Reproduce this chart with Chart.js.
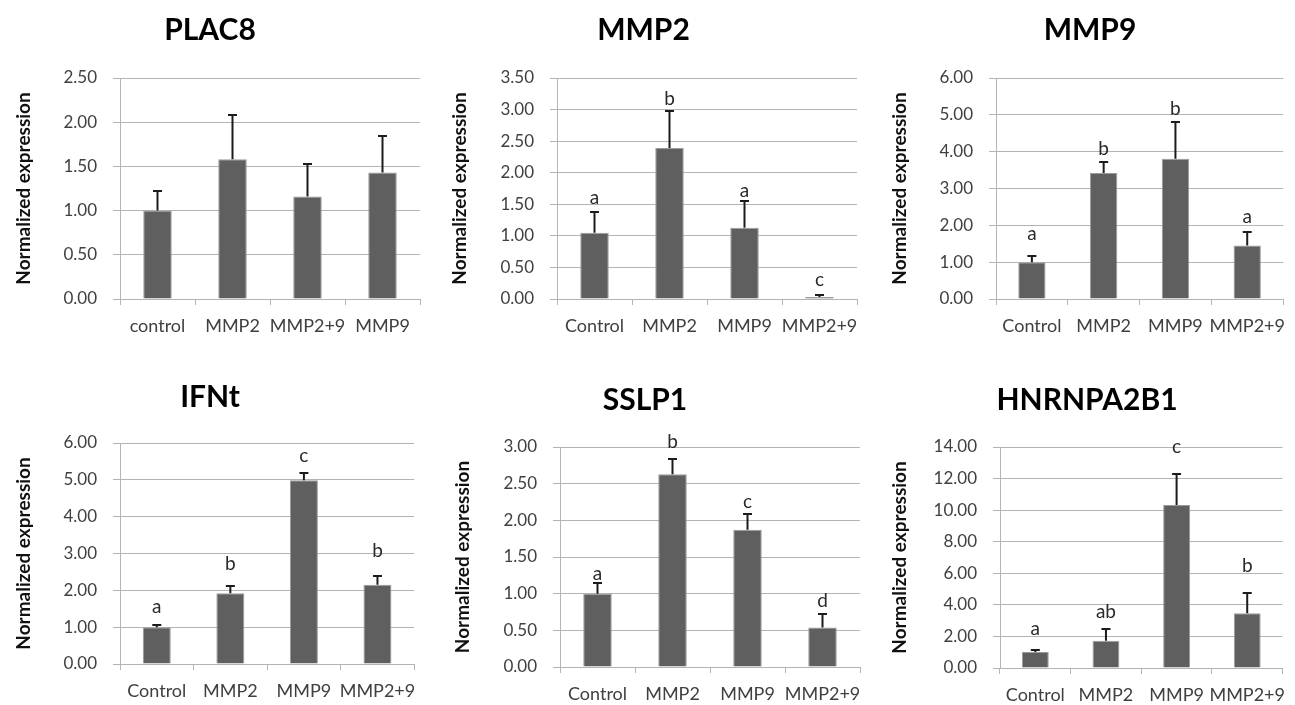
<!DOCTYPE html>
<html>
<head>
<meta charset="utf-8">
<script src="https://cdn.jsdelivr.net/npm/chart.js@4.4.0/dist/chart.umd.min.js"></script>
<style>
  body { margin: 0; background: #fff; width: 1295px; height: 705px; overflow: hidden; position: relative; }
  .panel { position: absolute; }
  .panel canvas { display: block; }
</style>
</head>
<body>
<div class="panel" style="left:0px;top:0px"><canvas id="c0" width="426" height="350"></canvas></div>
<div class="panel" style="left:430px;top:0px"><canvas id="c1" width="440" height="350"></canvas></div>
<div class="panel" style="left:885px;top:0px"><canvas id="c2" width="410" height="350"></canvas></div>
<div class="panel" style="left:0px;top:350px"><canvas id="c3" width="426" height="355"></canvas></div>
<div class="panel" style="left:430px;top:350px"><canvas id="c4" width="444" height="355"></canvas></div>
<div class="panel" style="left:879px;top:350px"><canvas id="c5" width="416" height="355"></canvas></div>

<script>
// --- data ---
const titles = ['PLAC8', 'MMP2', 'MMP9', 'IFNt', 'SSLP1', 'HNRNPA2B1'];
const catsPlac8 = ['control', 'MMP2', 'MMP2+9', 'MMP9'];
const catsOther = ['Control', 'MMP2', 'MMP9', 'MMP2+9'];

const plac8Mean = [1.00, 1.58, 1.16, 1.43];
const plac8Sd   = [0.22, 0.50, 0.37, 0.41];

const mmp2Mean = [1.05, 2.39, 1.13, 0.03];
const mmp2Sd   = [0.33, 0.58, 0.42, 0.03];
const mmp2Letters = ['a', 'b', 'a', 'c'];
const mmp2LetterAt = [1.50, 3.07, 1.62, 0.21];

const mmp9Mean = [1.00, 3.42, 3.81, 1.45];
const mmp9Sd   = [0.18, 0.29, 0.99, 0.38];
const mmp9Letters = ['a', 'b', 'b', 'a'];
const mmp9LetterAt = [1.60, 3.91, 5.00, 2.06];

const ifntMean = [1.00, 1.92, 4.99, 2.15];
const ifntSd   = [0.06, 0.21, 0.20, 0.23];
const ifntLetters = ['a', 'b', 'c', 'b'];
const ifntLetterAt = [1.38, 2.55, 5.48, 2.91];

const sslp1Mean = [1.00, 2.63, 1.87, 0.54];
const sslp1Sd   = [0.14, 0.21, 0.21, 0.18];
const sslp1Letters = ['a', 'b', 'c', 'd'];
const sslp1LetterAt = [1.19, 2.99, 2.17, 0.82];

const hnrMean = [1.01, 1.73, 10.32, 3.47];
const hnrSd   = [0.11, 0.73, 2.00, 1.27];
const hnrLetters = ['a', 'ab', 'c', 'b'];
const hnrLetterAt = [2.09, 3.17, 13.6, 6.08];

const yMax  = [2.5, 3.5, 6, 6, 3, 14];
const yStep = [0.5, 0.5, 1, 1, 0.5, 2];

// --- layout (page pixels) ---
const panels = [
  { left: 0,   top: 0,   w: 426, h: 350, pl: 120,  pt: 78,  pr: 420,  pb: 299, titleTop: 12, yPad: 12 },
  { left: 430, top: 0,   w: 440, h: 350, pl: 557,  pt: 78,  pr: 857,  pb: 299, titleTop: 12, yPad: 18 },
  { left: 885, top: 0,   w: 410, h: 350, pl: 996,  pt: 78,  pr: 1295, pb: 299, titleTop: 12, yPad: 3 },
  { left: 0,   top: 350, w: 426, h: 355, pl: 120,  pt: 443, pr: 420,  pb: 664, titleTop: 29, yPad: 12 },
  { left: 430, top: 350, w: 444, h: 355, pl: 560,  pt: 447, pr: 860,  pb: 667, titleTop: 32, yPad: 21 },
  { left: 879, top: 350, w: 416, h: 355, pl: 1000, pt: 447, pr: 1295, pb: 668, titleTop: 32, yPad: 9 }
];

const series = [
  { cats: catsPlac8, mean: plac8Mean, sd: plac8Sd, letters: [], letterAt: [] },
  { cats: catsOther, mean: mmp2Mean, sd: mmp2Sd, letters: mmp2Letters, letterAt: mmp2LetterAt },
  { cats: catsOther, mean: mmp9Mean, sd: mmp9Sd, letters: mmp9Letters, letterAt: mmp9LetterAt },
  { cats: catsOther, mean: ifntMean, sd: ifntSd, letters: ifntLetters, letterAt: ifntLetterAt },
  { cats: catsOther, mean: sslp1Mean, sd: sslp1Sd, letters: sslp1Letters, letterAt: sslp1LetterAt },
  { cats: catsOther, mean: hnrMean, sd: hnrSd, letters: hnrLetters, letterAt: hnrLetterAt }
];

const GRID = '#b4b4b4';
const FONT = 'Lato';

// upper error bars + significance letters
const errorBars = {
  id: 'errorBars',
  afterDatasetsDraw(chart, args, opts) {
    const { ctx } = chart;
    const y = chart.scales.y;
    const meta = chart.getDatasetMeta(0);
    const means = chart.data.datasets[0].data;
    ctx.save();
    ctx.strokeStyle = '#1c1c1c';
    ctx.lineWidth = 2;
    meta.data.forEach((bar, i) => {
      const y0 = y.getPixelForValue(means[i]);
      const y1 = Math.round(y.getPixelForValue(means[i] + opts.sd[i]));
      ctx.beginPath();
      ctx.moveTo(bar.x, y0);
      ctx.lineTo(bar.x, y1);
      ctx.moveTo(bar.x - 4.5, y1);
      ctx.lineTo(bar.x + 4.5, y1);
      ctx.stroke();
    });
    ctx.fillStyle = '#2a2a2a';
    ctx.font = '19px ' + FONT;
    ctx.textAlign = 'center';
    ctx.textBaseline = 'alphabetic';
    opts.letters.forEach((txt, i) => {
      const bar = meta.data[i];
      ctx.fillText(txt, bar.x, y.getPixelForValue(opts.letterAt[i]));
    });
    ctx.restore();
  }
};

function makeChart(idx) {
  const p = panels[idx];
  const s = series[idx];
  const ctx = document.getElementById('c' + idx).getContext('2d');
  return new Chart(ctx, {
    type: 'bar',
    data: {
      labels: s.cats,
      datasets: [{
        data: s.mean,
        backgroundColor: '#5f5f5f',
        borderColor: '#9a9a9a',
        borderWidth: 1,
        barPercentage: 0.38,
        categoryPercentage: 1.0
      }]
    },
    plugins: [errorBars],
    options: {
      responsive: false,
      animation: false,
      layout: { padding: { left: 0, top: 0, bottom: 0, right: p.w - (p.pr - p.left) } },
      plugins: {
        legend: { display: false },
        tooltip: { enabled: false },
        title: {
          display: true,
          text: titles[idx],
          color: '#000',
          font: { family: FONT, weight: 'bold', size: 30, lineHeight: 1.2 },
          padding: { top: p.titleTop, bottom: (p.pt - p.top) - p.titleTop - 36 }
        },
        errorBars: { sd: s.sd, letters: s.letters, letterAt: s.letterAt }
      },
      scales: {
        x: {
          offset: true,
          grid: { display: true, offset: true, drawOnChartArea: false, drawTicks: true, tickLength: 6, color: GRID },
          border: { display: true, color: GRID, width: 1 },
          ticks: { color: '#404040', font: { family: FONT, size: 18 }, padding: 10, maxRotation: 0, autoSkip: false },
          afterFit: sc => { sc.height = p.h - (p.pb - p.top); }
        },
        y: {
          min: 0,
          max: yMax[idx],
          grid: { color: GRID, tickLength: 7 },
          border: { display: true, color: GRID, width: 1 },
          ticks: {
            stepSize: yStep[idx],
            color: '#404040',
            padding: 16,
            font: { family: FONT, size: 17 },
            callback: v => v.toFixed(2)
          },
          title: {
            display: true,
            text: 'Normalized expression',
            color: '#111',
            font: { family: FONT, weight: 'bold', size: 19, lineHeight: 1.2 },
            padding: { top: p.yPad, bottom: 0 }
          },
          afterFit: sc => { sc.width = p.pl - p.left; }
        }
      }
    }
  });
}

Promise.all([
  document.fonts.load('17px Lato'),
  document.fonts.load('bold 30px Lato')
]).catch(() => {}).then(() => {
  for (let i = 0; i < panels.length; i++) makeChart(i);
});
</script>
</body>
</html>
